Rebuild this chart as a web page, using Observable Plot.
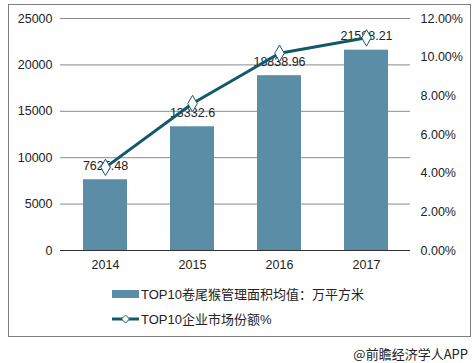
<!DOCTYPE html>
<html><head><meta charset="utf-8">
<script src="https://cdn.jsdelivr.net/npm/d3@7"></script>
<script src="https://cdn.jsdelivr.net/npm/@observablehq/plot@0.6"></script>
<style>
body{margin:0;background:#fff;font-family:"Liberation Sans","Noto Sans CJK SC",sans-serif;}
#wrap{position:relative;width:473px;height:363px;overflow:hidden;}
#frame{position:absolute;left:8px;top:4px;width:463px;height:333px;border:1px solid #7f7f7f;box-sizing:border-box;}
#chart{position:absolute;left:0;top:0;}
.leg{position:absolute;left:112px;font-size:13px;color:#222;display:flex;align-items:center;white-space:nowrap;font-family:"Liberation Sans","Noto Sans CJK SC",sans-serif;}
.sw{display:inline-block;width:27px;height:8px;background:#5b8ea6;margin-right:2px;}
#cap{position:absolute;right:5px;top:346px;font-size:13px;line-height:15px;color:#222;font-family:"Noto Sans CJK SC",sans-serif;}
</style></head>
<body>
<div id="wrap">
<div id="frame"></div>
<div id="chart"></div>
<div class="leg" style="top:284px"><span class="sw"></span><span>TOP10卷尾猴管理面积均值：万平方米</span></div>
<div class="leg" style="top:309px"><svg width="29" height="14" style="margin-right:0px"><line x1="0" y1="7" x2="27" y2="7" stroke="#14586b" stroke-width="3"/><path d="M13.5,3 L17.5,7 L13.5,11 L9.5,7 Z" fill="#fff" stroke="#14586b" stroke-width="1"/></svg><span>TOP10企业市场份额%</span></div>
<div id="cap">@前瞻经济学人APP</div>
</div>
<script>
const years = ["2014", "2015", "2016", "2017"];
const areaValues = [7625.48, 13332.6, 18838.96, 21588.21];
const areaLabels = ["7625.48", "13332.6", "18838.96", "21588.21"];
const shareValues = [4.3, 7.6, 10.2, 11.0];
const leftTicks = [0, 5000, 10000, 15000, 20000, 25000];
const rightTicks = [0, 2, 4, 6, 8, 10, 12];

const yMax = 25000, pMax = 12;
const toY = p => p / pMax * yMax;
const data = years.map((y, i) => ({year: y, area: areaValues[i], label: areaLabels[i], share: toY(shareValues[i])}));

const barColor = "#5b8ea6";
const lineColor = "#14586b";

const chart = Plot.plot({
  width: 473,
  height: 275,
  marginLeft: 60,
  marginRight: 63,
  marginTop: 18,
  marginBottom: 25,
  style: {fontFamily: "Liberation Sans, Arial, sans-serif", fontSize: "12.5px", color: "#222", background: "transparent"},
  x: {domain: years, paddingInner: 0.5, paddingOuter: 0.25},
  y: {domain: [0, yMax]},
  marks: [
    Plot.gridY(leftTicks, {stroke: "#8a8a8a", strokeOpacity: 1, strokeWidth: 1}),
    Plot.barY(data, {x: "year", y: "area", fill: barColor}),
    Plot.ruleY([0], {stroke: "#333", strokeWidth: 1}),
    Plot.axisY(leftTicks, {anchor: "left", tickSize: 0, tickPadding: 8, label: null, tickFormat: d => String(d), fill: "#222"}),
    Plot.axisY(rightTicks.map(toY), {anchor: "right", tickSize: 0, tickPadding: 10, label: null, tickFormat: d => (d / yMax * pMax).toFixed(2) + "%", fill: "#222"}),
    Plot.axisX({tickSize: 0, tickPadding: 10, label: null, fill: "#222"}),
    Plot.text(data, {x: "year", y: "area", text: "label", dy: -14, fill: "#222", fontSize: 12.5}),
    Plot.line(data, {x: "year", y: "share", stroke: lineColor, strokeWidth: 3}),
    Plot.dot(data, {x: "year", y: "share", symbol: "diamond", r: 5, fill: "#fff", stroke: lineColor, strokeWidth: 1})
  ]
});
document.getElementById("chart").appendChild(chart);
</script>
</body></html>
